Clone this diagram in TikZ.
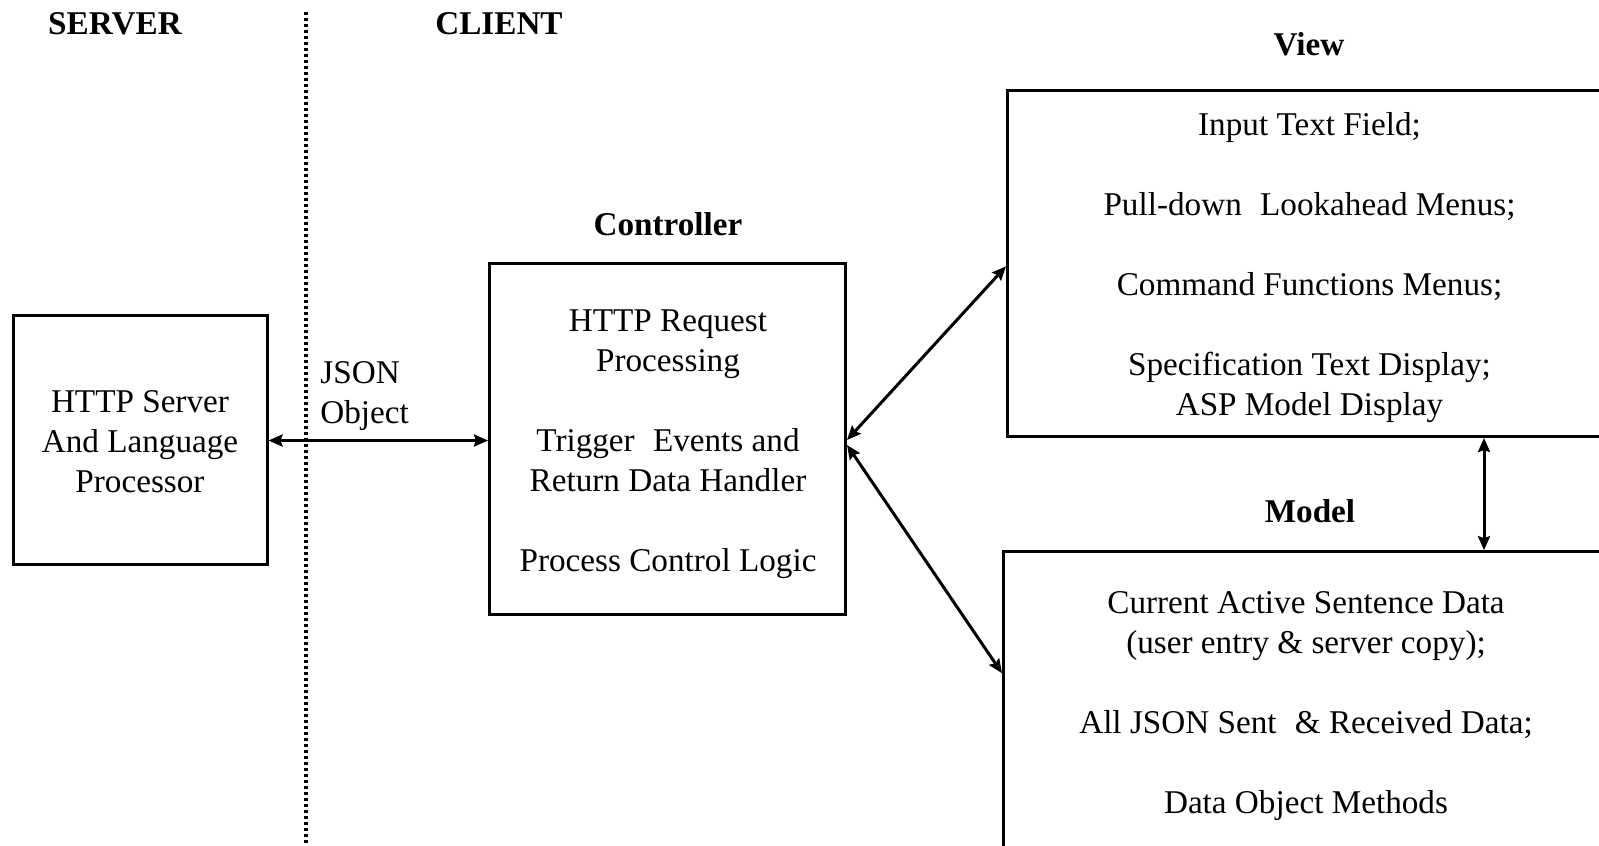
\documentclass[tikz,border=0pt]{standalone}
\usepackage{fontspec}
\setmainfont{Liberation Serif}
\usetikzlibrary{arrows.meta,calc}
\tikzset{
  box/.style={draw=black, line width=1.5pt, fill=none, inner sep=0pt},
  txt/.style={font=\fontsize{16.6pt}{20pt}\selectfont, align=center, inner sep=0pt},
  lbl/.style={font=\fontsize{16.6pt}{20pt}\selectfont\bfseries, inner sep=0pt},
  arr/.style={line width=1.5pt, {Stealth[length=7pt,width=6pt,inset=1pt]}-{Stealth[length=7pt,width=6pt,inset=1pt]}},
  divider/.style={line width=1.6pt, dash pattern=on 1.6pt off 1.4pt}
}
\begin{document}
\begin{tikzpicture}[x=0.5pt,y=-0.5pt]
\useasboundingbox (0,0) rectangle (1599,845);
\clip (0,0) rectangle (1599,845);
% divider
\coordinate (dtop) at (306,12);
\coordinate (dbot) at (306,850);
\draw[divider] (dtop) -- (dbot);
% labels
\node[lbl] (serverlbl) at (115,24) {SERVER};
\node[lbl] (clientlbl) at (499,24) {CLIENT};
\node[lbl] (ctrllbl) at (668,224) {Controller};
\node[lbl] (viewlbl) at (1309,44) {View};
\node[lbl] (modellbl) at (1310,511) {Model};
% boxes
\node[box, minimum width=254pt*0.5, minimum height=249pt*0.5] (server) at (140,439.5) {};
\node[box, minimum width=356pt*0.5, minimum height=351pt*0.5] (ctrl) at (667.5,438.5) {};
\node[box, minimum width=640pt*0.5, minimum height=345.7pt*0.5] (view) at (1327.5,263.65) {};
\node[box, minimum width=644pt*0.5, minimum height=380pt*0.5] (model) at (1325.5,741.7) {};
% texts
\node[txt] (servertxt) at (140,442) {HTTP Server\\And Language\\Processor};
\node[txt, align=left, anchor=west] (json) at (320,396) {JSON\\Object};
\node[txt] (ctrltxt) at (668,444) {HTTP Request\\Processing\\[20pt]Trigger\hspace{0.3em} Events and\\Return Data Handler\\[20pt]Process Control Logic};
\node[txt] (viewtxt) at (1309.5,267.5) {Input Text Field;\\[20pt]Pull-down\hspace{0.3em} Lookahead Menus;\\[20pt]Command Functions Menus;\\[20pt]Specification Text Display;\\ASP Model Display};
\node[txt] (modeltxt) at (1306,706) {Current Active Sentence Data\\(user entry \& server copy);\\[20pt]All JSON Sent\hspace{0.3em} \& Received Data;\\[20pt]Data Object Methods};
% connectors
\draw[arr] (server.east |- 0,440.5) -- (ctrl.west |- 0,440.5);
\coordinate (ctrlA) at ($(ctrl.east)+(0,1.5)$);
\coordinate (ctrlB) at ($(ctrl.east)+(0,6.5)$);
\coordinate (viewin) at ($(view.north west)+(0,177)$);
\coordinate (modelin) at ($(model.north west)+(0,123)$);
\draw[arr] (ctrlA) -- (viewin);
\draw[arr] (ctrlB) -- (modelin);
\coordinate (vx) at (1484,0);
\draw[arr] (view.south -| vx) -- (model.north -| vx);
\end{tikzpicture}
\end{document}
